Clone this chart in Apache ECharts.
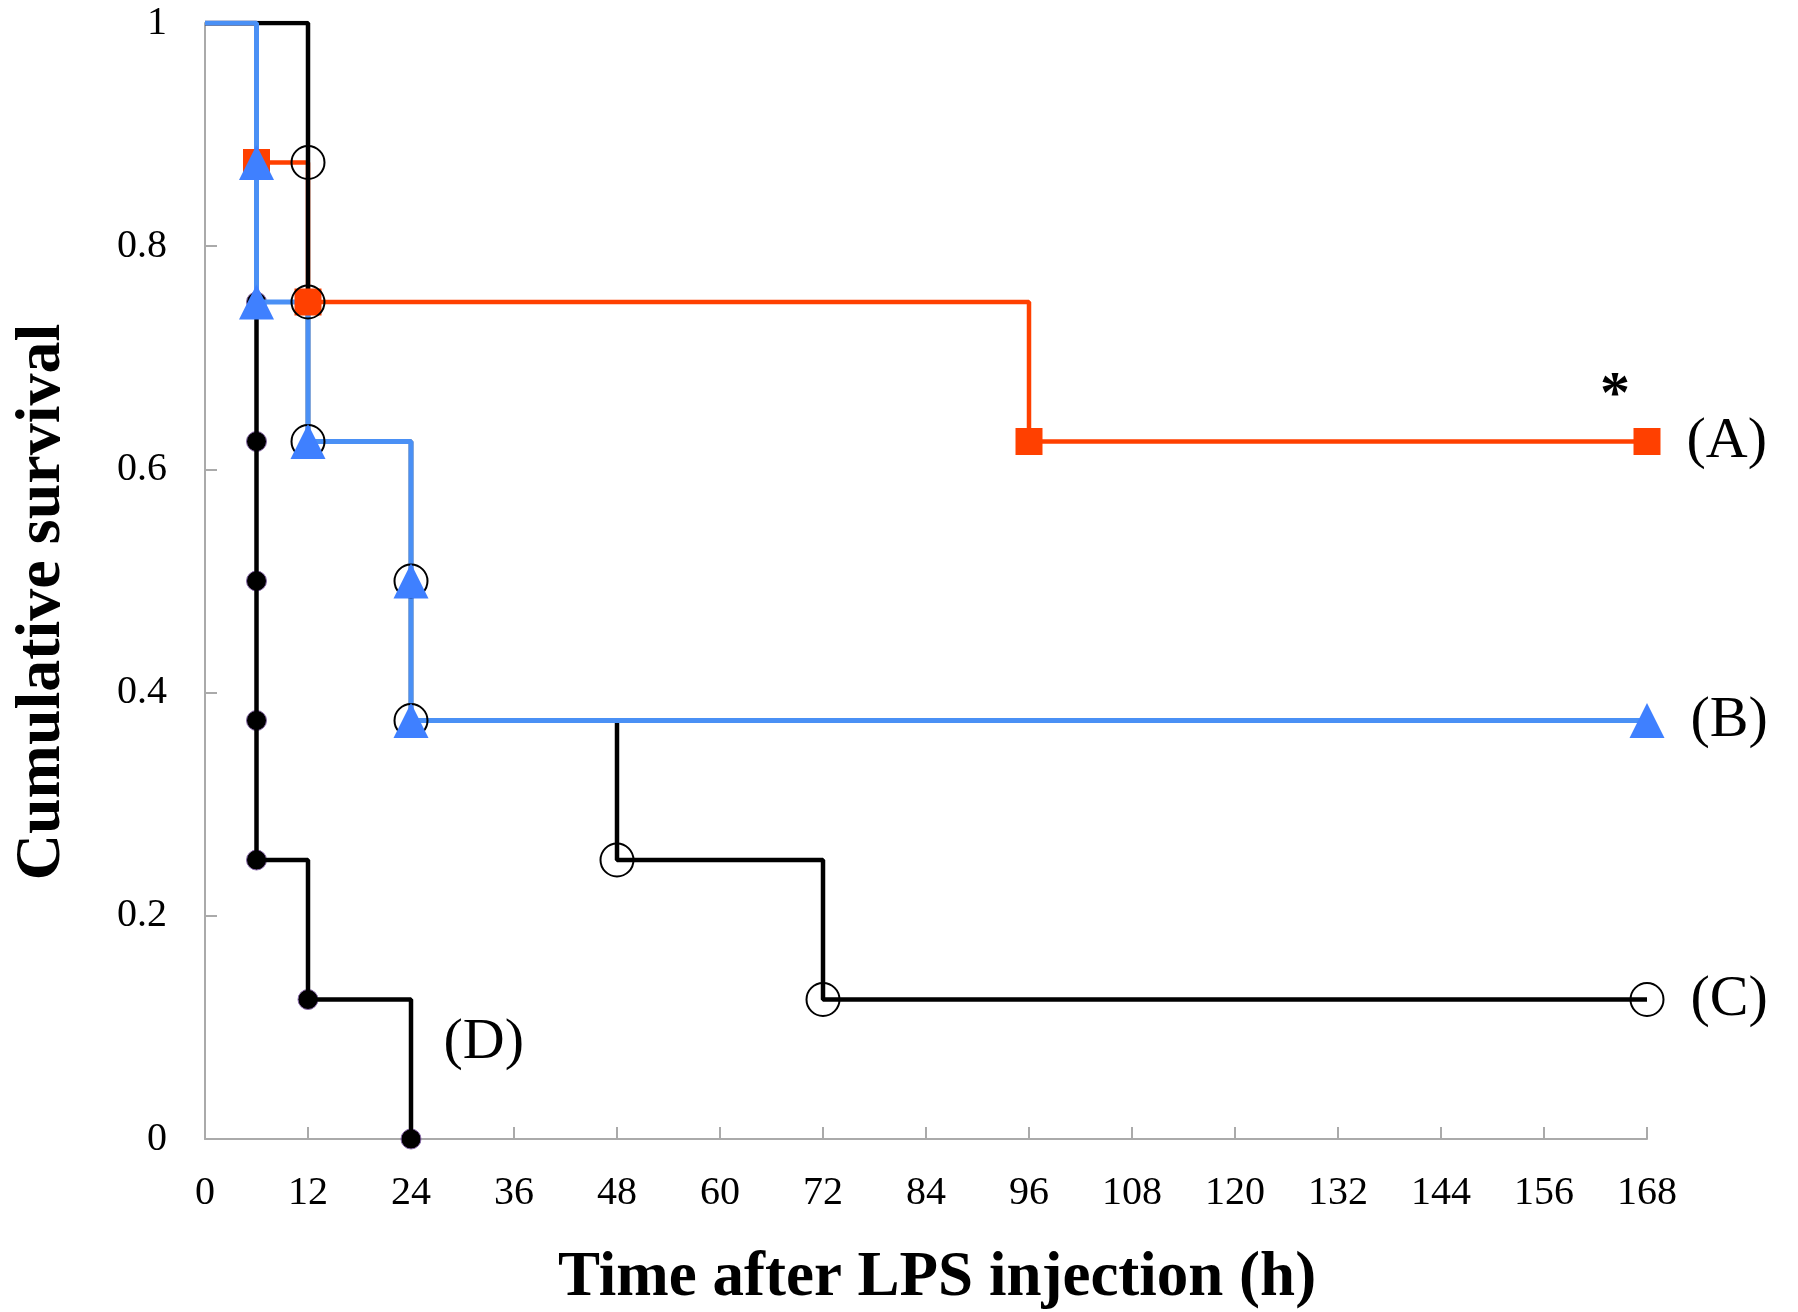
<!DOCTYPE html>
<html>
<head>
<meta charset="utf-8">
<script src="https://cdn.jsdelivr.net/npm/echarts@6/dist/echarts.min.js"></script>
<style>
  html, body { margin: 0; padding: 0; background: #fff; }
  #chart { width: 1798px; height: 1312px; }
</style>
</head>
<body>
<div id="chart"></div>
<script>
// time (h) and survival for each group
const timeA = [0, 6, 12, 96, 168]
const survA = [1, 0.875, 0.75, 0.625, 0.625]

const timeB = [0, 6, 6, 12, 24, 24, 168]
const survB = [1, 0.875, 0.75, 0.625, 0.5, 0.375, 0.375]

const timeC = [0, 12, 12, 12, 24, 24, 48, 72, 168]
const survC = [1, 0.875, 0.75, 0.625, 0.5, 0.375, 0.25, 0.125, 0.125]

const timeD = [0, 6, 6, 6, 6, 6, 6, 12, 24]
const survD = [1, 0.875, 0.75, 0.625, 0.5, 0.375, 0.25, 0.125, 0]

const xTicks = [0, 12, 24, 36, 48, 60, 72, 84, 96, 108, 120, 132, 144, 156, 168]
const yTicks = [0, 0.2, 0.4, 0.6, 0.8, 1]
const groupNames = ['(A)', '(B)', '(C)', '(D)']

const FONT = "'Liberation Serif', 'Times New Roman', serif"

// build step points; first point has no marker, last point carries the end label
function points(times, surv, name, labelOpt) {
    return times.map((t, i) => {
        const item = { value: [t, surv[i]] }
        if (i === 0) item.symbol = 'none'
        if (i === times.length - 1 && name) {
            item.label = Object.assign({
                show: true,
                formatter: name,
                position: 'right',
                distance: 26,
                color: '#000',
                opacity: 1,
                fontFamily: FONT,
                fontSize: 58
            }, labelOpt || {})
        }
        return item
    })
}

const chart = echarts.init(document.getElementById('chart'))

const option = {
    backgroundColor: '#fff',
    animation: false,
    grid: { left: 205, right: 151, top: 23, bottom: 173, outerBoundsMode: 'none' },
    xAxis: {
        type: 'value',
        min: xTicks[0],
        max: xTicks[xTicks.length - 1],
        interval: 12,
        name: 'Time after LPS injection (h)',
        nameLocation: 'middle',
        nameGap: 108,
        nameTextStyle: {
            fontFamily: FONT, fontSize: 63, fontWeight: 'bold', color: '#000',
            padding: [0, 0, 0, 22]
        },
        axisLine: { lineStyle: { color: '#aaaaaa', width: 2 } },
        axisTick: { inside: true, length: 12, lineStyle: { color: '#aaaaaa', width: 2 } },
        axisLabel: { margin: 34, fontFamily: FONT, fontSize: 40, color: '#000' },
        splitLine: { show: false }
    },
    yAxis: {
        type: 'value',
        min: yTicks[0],
        max: yTicks[yTicks.length - 1],
        interval: 0.2,
        name: 'Cumulative survival',
        nameLocation: 'middle',
        nameGap: 131,
        nameRotate: 90,
        nameTextStyle: {
            fontFamily: FONT, fontSize: 64, fontWeight: 'bold', color: '#000',
            padding: [0, 42, 0, 0]
        },
        axisLine: { show: true, lineStyle: { color: '#aaaaaa', width: 2 } },
        axisTick: { show: true, inside: true, length: 12, lineStyle: { color: '#aaaaaa', width: 2 } },
        axisLabel: { margin: 38, fontFamily: FONT, fontSize: 40, color: '#000' },
        splitLine: { show: false }
    },
    series: [
        {
            name: 'A',
            type: 'line',
            step: 'end',
            data: points(timeA, survA, groupNames[0]),
            symbol: 'rect',
            symbolSize: 27,
            lineStyle: { color: '#ff4000', width: 4.5 },
            itemStyle: { color: '#ff4000' },
            markPoint: {
                symbol: 'circle',
                symbolSize: 0,
                data: [{ coord: [timeA[timeA.length - 1], survA[survA.length - 1]] }],
                label: {
                    show: true,
                    formatter: '*',
                    offset: [-32, -45],
                    color: '#000',
                    fontFamily: FONT,
                    fontWeight: 'bold',
                    fontSize: 60
                }
            }
        },
        {
            name: 'C',
            type: 'line',
            step: 'end',
            data: points(timeC, survC, groupNames[2]),
            symbol: 'circle',
            symbolSize: 33,
            lineStyle: { color: '#000', width: 4.5 },
            itemStyle: { color: 'rgba(0,0,0,0)', borderColor: '#000', borderWidth: 2 }
        },
        {
            name: 'D',
            type: 'line',
            step: 'end',
            data: points(timeD, survD, null),
            showSymbol: false,
            symbol: 'none',
            lineStyle: { color: '#000', width: 4.5 }
        },
        {
            name: 'B',
            type: 'line',
            step: 'end',
            data: points(timeB, survB, groupNames[1]),
            symbol: 'triangle',
            symbolSize: 35,
            lineStyle: { color: '#4a90f5', width: 5 },
            itemStyle: { color: '#3f80ff' }
        },
        {
            name: 'D markers',
            type: 'scatter',
            data: points(timeD, survD, groupNames[3], { distance: 22, offset: [0, -96] }),
            symbol: 'circle',
            symbolSize: 20,
            itemStyle: { color: '#000', opacity: 1, borderColor: '#8a6aaa', borderWidth: 1 },
            label: { color: '#000', opacity: 1 }
        }
    ]
}

chart.setOption(option)

window.addEventListener('resize', () => {
    chart.resize()
})
</script>
</body>
</html>
